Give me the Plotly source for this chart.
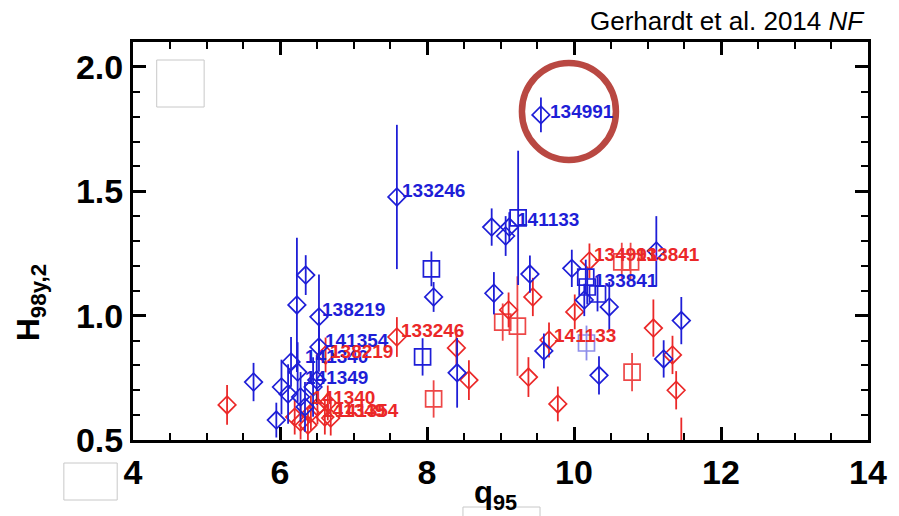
import plotly.graph_objects as go

# ---------------- data ----------------
# blue open diamonds
blue_d_x = [9.55, 7.59, 8.88, 9.07, 9.12, 9.40, 8.91, 8.09, 8.41, 9.59, 9.97, 10.14, 10.48, 10.34, 11.12, 11.46, 11.22,
            6.35, 6.23, 6.53, 6.53, 6.15, 5.64, 6.02, 6.11, 5.95, 6.50, 6.45, 6.28, 6.34, 6.24]
blue_d_y = [1.807, 1.477, 1.356, 1.32, 1.356, 1.167, 1.09, 1.075, 0.77, 0.858, 1.19, 1.063, 1.035, 0.76, 1.26, 0.98, 0.826,
            1.163, 1.043, 0.995, 0.874, 0.814, 0.733, 0.713, 0.685, 0.58, 0.741, 0.713, 0.673, 0.633, 0.773]
blue_d_err = [0.07, 0.29, 0.075, 0.08, 0.06, 0.075, 0.085, 0.06, 0.14, 0.07, 0.075, 0.065, 0.1, 0.077, 0.14, 0.095, 0.075,
              0.08, 0.27, 0.17, 0.1, 0.1, 0.077, 0.11, 0.12, 0.07, 0.1, 0.12, 0.1, 0.1, 0.12]

# blue open squares
blue_s_x = [9.24, 8.06, 7.94, 10.16, 10.18, 10.32]
blue_s_y = [1.393, 1.188, 0.834, 1.155, 1.115, 1.087]
blue_s_err = [0.27, 0.07, 0.075, 0.07, 0.07, 0.07]
# faded blue square
blue_f_x = [10.17]
blue_f_y = [0.89]
blue_f_err = [0.07]

# red open diamonds
red_d_x = [5.28, 7.59, 8.40, 8.57, 9.11, 9.44, 9.38, 9.78, 10.01, 9.66, 10.21, 11.08, 11.34, 11.39, 11.46,
           6.62, 6.20, 6.28, 6.42, 6.51, 6.65, 6.61, 6.69, 6.38]
red_d_y = [0.641, 0.914, 0.87, 0.741, 1.023, 1.075, 0.753, 0.645, 1.015, 0.902, 1.22, 0.95, 0.842, 0.70, 0.45,
           0.842, 0.592, 0.572, 0.609, 0.633, 0.649, 0.592, 0.588, 0.56]
red_d_err = [0.08, 0.08, 0.07, 0.08, 0.07, 0.077, 0.08, 0.07, 0.07, 0.07, 0.07, 0.115, 0.077, 0.077, 0.14,
             0.07, 0.07, 0.07, 0.07, 0.07, 0.07, 0.07, 0.07, 0.07]

# red open squares
red_s_x = [9.03, 9.23, 8.09, 10.65, 10.77, 10.79]
red_s_y = [0.974, 0.958, 0.665, 1.216, 1.216, 0.773]
red_s_err = [0.075, 0.2, 0.075, 0.077, 0.077, 0.077]

# shot labels (left edge x, centre y)
lab_text = ["134991", "133246", "141133", "133841", "138219", "141354", "141340", "141349",
            "133246", "138219", "141340", "141349", "141354", "134991", "133841", "141133"]
lab_x = [9.645, 7.63, 9.20, 10.25, 6.55, 6.58, 6.31, 6.31,
         7.62, 6.65, 6.41, 6.54, 6.72, 10.25, 10.81, 9.70]
lab_y = [1.819, 1.505, 1.385, 1.143, 1.023, 0.902, 0.834, 0.753,
         0.942, 0.854, 0.669, 0.617, 0.617, 1.244, 1.244, 0.922]
lab_series = ["b"] * 8 + ["r"] * 8

x_ticks = [4, 6, 8, 10, 12, 14]
y_ticks = [0.5, 1.0, 1.5, 2.0]
y_tick_text = ["0.5", "1.0", "1.5", "2.0"]

BLUE = "rgb(30,30,215)"
RED = "rgb(235,40,40)"
FONT = "Liberation Sans, Arial, sans-serif"

# ---------------- figure ----------------
W, H = 899, 516
L, R, T, B = 133, 22, 42, 76
PW, PH = W - L - R, H - T - B


def px_x(p):
    return (p - L) / PW


def px_y(p):
    return (H - B - p) / PH


fig = go.Figure()


def add(xs, ys, errs, symbol, size, color, opacity=1.0):
    fig.add_trace(go.Scatter(
        x=xs, y=ys, mode="markers", opacity=opacity,
        marker=dict(symbol=symbol, size=size, color="rgba(0,0,0,0)",
                    line=dict(color=color, width=1.7)),
        error_y=dict(type="data", array=errs, visible=True, color=color,
                     thickness=1.8, width=0),
        showlegend=False, hoverinfo="skip"))


add(red_d_x, red_d_y, red_d_err, "diamond", 13.5, RED)
add(red_s_x, red_s_y, red_s_err, "square", 16, RED, 0.85)
add(blue_d_x, blue_d_y, blue_d_err, "diamond", 13.5, BLUE)
add(blue_s_x, blue_s_y, blue_s_err, "square", 16, BLUE)
add(blue_f_x, blue_f_y, blue_f_err, "square", 16, BLUE, 0.5)

annotations = []
for t, x, y, s in zip(lab_text, lab_x, lab_y, lab_series):
    annotations.append(dict(x=x, y=y, xref="x", yref="y", text=t, showarrow=False,
                            xanchor="left", yanchor="middle",
                            font=dict(family=FONT, size=19, weight="bold",
                                      color=BLUE if s == "b" else RED)))

# title
annotations.append(dict(x=px_x(876), y=px_y(21), xref="paper", yref="paper",
                        text="Gerhardt et al. 2014 <i>NF</i>", showarrow=False,
                        xanchor="right", yanchor="middle",
                        font=dict(family=FONT, size=26, color="black")))
# axis titles
annotations.append(dict(x=px_x(500), y=px_y(495), xref="paper", yref="paper",
                        text="q<sub>95</sub>", showarrow=False,
                        xanchor="center", yanchor="middle",
                        font=dict(family=FONT, size=31, weight="bold", color="black")))
annotations.append(dict(x=px_x(29), y=px_y(303), xref="paper", yref="paper",
                        text="H<sub>98y,2</sub>", showarrow=False, textangle=-90,
                        xanchor="center", yanchor="middle",
                        font=dict(family=FONT, size=32, weight="bold", color="black")))

shapes = []
# red highlight circle anchored on shot 134991
shapes.append(dict(type="circle", xref="x", yref="y",
                   xsizemode="pixel", ysizemode="pixel",
                   xanchor=blue_d_x[0], yanchor=blue_d_y[0],
                   x0=-19, x1=75, y0=-45, y1=52,
                   line=dict(color="rgb(185,72,66)", width=6.5)))
# faint grey boxes (artifacts in the original image)
for (a, b, c, d) in [(157, 60, 205, 107), (63, 463, 117, 500), (467, 507, 545, 530)]:
    shapes.append(dict(type="rect", xref="paper", yref="paper",
                       x0=px_x(a), x1=px_x(c), y0=px_y(d), y1=px_y(b),
                       line=dict(color="rgb(200,200,200)", width=1)))

axis_common = dict(showgrid=False, zeroline=False, showline=True, linecolor="black",
                   linewidth=3, mirror="allticks", ticks="inside", tickcolor="black",
                   tickwidth=2.5, ticklen=13,
                   tickfont=dict(family=FONT, size=34, weight="bold", color="black"))

fig.update_layout(
    width=W, height=H, margin=dict(l=L, r=R, t=T, b=B),
    paper_bgcolor="white", plot_bgcolor="white",
    xaxis=dict(range=[4, 14], tickvals=x_ticks,
               minor=dict(dtick=0.5, ticks="inside", ticklen=7, tickwidth=2, tickcolor="black"),
               **axis_common),
    yaxis=dict(range=[0.5, 2.1], tickvals=y_ticks, ticktext=y_tick_text,
               minor=dict(dtick=0.1, ticks="inside", ticklen=7, tickwidth=2, tickcolor="black"),
               **axis_common),
    annotations=annotations, shapes=shapes,
)

fig.write_html("out.html")
